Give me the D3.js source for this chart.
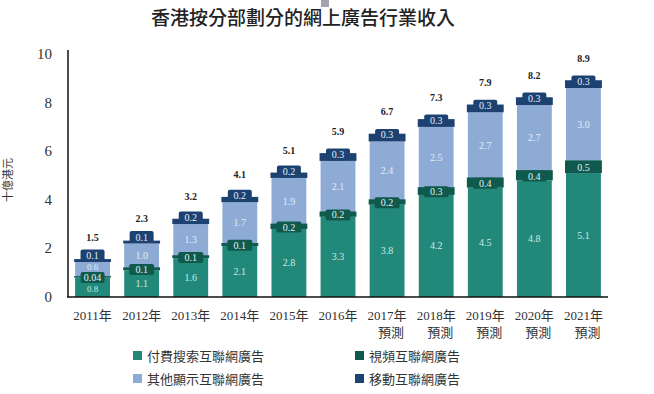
<!DOCTYPE html>
<html>
<head>
<meta charset="utf-8">
<script src="https://cdn.jsdelivr.net/npm/d3@7"></script>
<style>
    body { margin: 0; background: #fff; }
    svg { display: block; }
</style>
</head>
<body>
<script>
// chart data
var years = ["2011年", "2012年", "2013年", "2014年", "2015年", "2016年", "2017年", "2018年", "2019年", "2020年", "2021年"];
var subLabels = ["", "", "", "", "", "", "預測", "預測", "預測", "預測", "預測"];
var paidSearch = [0.8, 1.1, 1.6, 2.1, 2.8, 3.3, 3.8, 4.2, 4.5, 4.8, 5.1];
var video = [0.04, 0.1, 0.1, 0.1, 0.2, 0.2, 0.2, 0.3, 0.4, 0.4, 0.5];
var otherDisplay = [0.6, 1.0, 1.3, 1.7, 1.9, 2.1, 2.4, 2.5, 2.7, 2.7, 3.0];
var mobile = [0.1, 0.1, 0.2, 0.2, 0.2, 0.3, 0.3, 0.3, 0.3, 0.3, 0.3];
var totals = [1.5, 2.3, 3.2, 4.1, 5.1, 5.9, 6.7, 7.3, 7.9, 8.2, 8.9];
var yTicks = [0, 2, 4, 6, 8, 10];

var keys = ["search", "video", "other", "mobile"];
var legendNames = {
    search: "付費搜索互聯網廣告",
    video: "視頻互聯網廣告",
    other: "其他顯示互聯網廣告",
    mobile: "移動互聯網廣告"
};
var colors = {
    search: "#22887a",
    video: "#0f5a4d",
    other: "#8eabd5",
    mobile: "#1d4272"
};

var w = 654;
var h = 394;
var serif = "'Liberation Serif', 'Times New Roman', 'Noto Sans CJK TC', serif";
var cjk = "'Noto Sans CJK TC', sans-serif";

var rows = years.map(function (y, i) {
    return {
        year: y,
        sub: subLabels[i],
        total: totals[i],
        search: paidSearch[i],
        video: video[i],
        other: otherDisplay[i],
        mobile: mobile[i]
    };
});

function fmt(v) {
    return v < 0.1 ? String(v) : v.toFixed(1);
}

var svg = d3.select("body")
    .append("svg")
    .attr("width", w)
    .attr("height", h);

var x = d3.scaleBand()
    .domain(years)
    .range([68, 608])
    .paddingInner(0.29)
    .paddingOuter(0.145);

var y = d3.scaleLinear()
    .domain([0, 10])
    .range([297, 54]);

var series = d3.stack().keys(keys)(rows);

// small grey mark at the top of the picture
svg.append("rect")
    .attr("x", 321).attr("y", 0)
    .attr("width", 8).attr("height", 7)
    .attr("fill", "#a3a3ad");

// title
svg.append("text")
    .attr("x", 303)
    .attr("y", 25)
    .attr("text-anchor", "middle")
    .style("font-family", cjk)
    .style("font-size", "19px")
    .style("font-weight", "500")
    .style("fill", "#222")
    .text("香港按分部劃分的網上廣告行業收入");

// y axis title
svg.append("text")
    .attr("transform", "translate(12,180) rotate(-90)")
    .attr("text-anchor", "middle")
    .style("font-family", cjk)
    .style("font-size", "11px")
    .style("fill", "#333")
    .text("十億港元");

// y tick labels
svg.selectAll(".ytick")
    .data(yTicks)
    .enter()
    .append("text")
    .attr("class", "ytick")
    .attr("x", 52)
    .attr("y", function (d) { return y(d) + 5; })
    .attr("text-anchor", "end")
    .style("font-family", serif)
    .style("font-size", "15px")
    .style("fill", "#333")
    .text(function (d) { return d; });

// thick segments
var thick = series.filter(function (s) { return s.key === "search" || s.key === "other"; });
svg.selectAll(".layer")
    .data(thick)
    .enter()
    .append("g")
    .attr("fill", function (s) { return colors[s.key]; })
    .selectAll("rect")
    .data(function (s) { return s; })
    .enter()
    .append("rect")
    .attr("x", function (d) { return x(d.data.year); })
    .attr("y", function (d) { return y(d[1]); })
    .attr("width", x.bandwidth())
    .attr("height", function (d) { return y(d[0]) - y(d[1]); });

// thin segments drawn a bit wider than the bar
var thin = series.filter(function (s) { return s.key === "video" || s.key === "mobile"; });
svg.selectAll(".thin")
    .data(thin)
    .enter()
    .append("g")
    .attr("fill", function (s) { return colors[s.key]; })
    .selectAll("rect")
    .data(function (s) { return s; })
    .enter()
    .append("rect")
    .attr("x", function (d) { return x(d.data.year) - 1; })
    .attr("y", function (d) { return y(d[1]) - 0.5; })
    .attr("width", x.bandwidth() + 2)
    .attr("height", function (d) { return Math.max(1.5, y(d[0]) - y(d[1]) + 0.5); });

// tabs holding the small values
var videoS = series[1];
var mobileS = series[3];

function tab(sel, s, getY, tw, th) {
    var g = sel.selectAll(".tab-" + s.key)
        .data(s)
        .enter()
        .append("g");
    g.append("rect")
        .attr("x", function (d) { return x(d.data.year) + x.bandwidth() / 2 - tw(d) / 2; })
        .attr("y", getY)
        .attr("width", tw)
        .attr("height", th)
        .attr("rx", 2)
        .attr("fill", colors[s.key]);
    g.append("text")
        .attr("x", function (d) { return x(d.data.year) + x.bandwidth() / 2; })
        .attr("y", function (d) { return getY(d) + th / 2 + 3.5; })
        .attr("text-anchor", "middle")
        .style("font-family", serif)
        .style("font-size", "10px")
        .style("fill", "#e4eef5")
        .text(function (d) { return fmt(d.data[s.key]); });
}

tab(svg, videoS,
    function (d) { return (y(d[0]) + y(d[1])) / 2 - 5; },
    function (d) { return d.data.video < 0.1 ? 24 : 25; }, 11);
tab(svg, mobileS,
    function (d) { return y(d[0]) - 12.5; },
    function () { return 24; }, 12);

// labels inside the thick segments
svg.selectAll(".seglabel")
    .data(thick)
    .enter()
    .append("g")
    .selectAll("text")
    .data(function (s) { return s.map(function (d) { d.key = s.key; return d; }); })
    .enter()
    .append("text")
    .attr("x", function (d) { return x(d.data.year) + x.bandwidth() / 2; })
    .attr("y", function (d) {
        var my = (y(d[0]) + y(d[1])) / 2 + 3.5;
        // 2011 bar is too short, squeeze its labels
        if (d.key === "search" && d.data.year === "2011年") return y(d[0]) - 5;
        if (d.key === "other" && d.data.year === "2011年") return y(d[1]) + 7.5;
        return my;
    })
    .attr("text-anchor", "middle")
    .style("font-family", serif)
    .style("font-size", function (d) { return d.data.year === "2011年" ? "9px" : "10px"; })
    .style("fill", function (d) { return d.key === "search" ? "#cdeae3" : "#e2ebf7"; })
    .text(function (d) { return fmt(d.data[d.key]); });

// totals above the bars
svg.selectAll(".total")
    .data(rows)
    .enter()
    .append("text")
    .attr("x", function (d) { return x(d.year) + x.bandwidth() / 2; })
    .attr("y", function (d) { return y(d.search + d.video + d.other + d.mobile) - 19; })
    .attr("text-anchor", "middle")
    .style("font-family", serif)
    .style("font-size", "10px")
    .style("font-weight", "bold")
    .style("fill", "#222")
    .text(function (d) { return d.total.toFixed(1); });

// axes lines
svg.append("line")
    .attr("x1", 68).attr("x2", 68)
    .attr("y1", y(10) - 4).attr("y2", y(0))
    .attr("stroke", "#111").attr("stroke-width", 1.5);
svg.append("line")
    .attr("x1", 67).attr("x2", 608)
    .attr("y1", y(0)).attr("y2", y(0))
    .attr("stroke", "#111").attr("stroke-width", 1.5);

// x labels
svg.selectAll(".xlab")
    .data(rows)
    .enter()
    .append("text")
    .attr("x", function (d) { return x(d.year) + x.bandwidth() / 2; })
    .attr("y", 320)
    .attr("text-anchor", "middle")
    .style("font-family", serif)
    .style("font-size", "13px")
    .style("fill", "#333")
    .text(function (d) { return d.year; });

svg.selectAll(".xsub")
    .data(rows.filter(function (d) { return d.sub; }))
    .enter()
    .append("text")
    .attr("x", function (d) { return x(d.year) + x.bandwidth() / 2 + 4; })
    .attr("y", 337)
    .attr("text-anchor", "middle")
    .style("font-family", serif)
    .style("font-size", "13px")
    .style("fill", "#333")
    .text(function (d) { return d.sub; });

// legend
var legendPos = {
    search: [133, 356],
    video: [355, 356],
    other: [133, 379],
    mobile: [355, 379]
};
var lg = svg.selectAll(".legend")
    .data(keys)
    .enter()
    .append("g")
    .attr("transform", function (k) { return "translate(" + legendPos[k][0] + "," + legendPos[k][1] + ")"; });
lg.append("rect")
    .attr("x", 0).attr("y", -5)
    .attr("width", 9).attr("height", 9)
    .attr("fill", function (k) { return colors[k]; });
lg.append("text")
    .attr("x", 14)
    .attr("y", 4.5)
    .style("font-family", cjk)
    .style("font-size", "13px")
    .style("fill", "#333")
    .text(function (k) { return legendNames[k]; });
</script>
</body>
</html>
